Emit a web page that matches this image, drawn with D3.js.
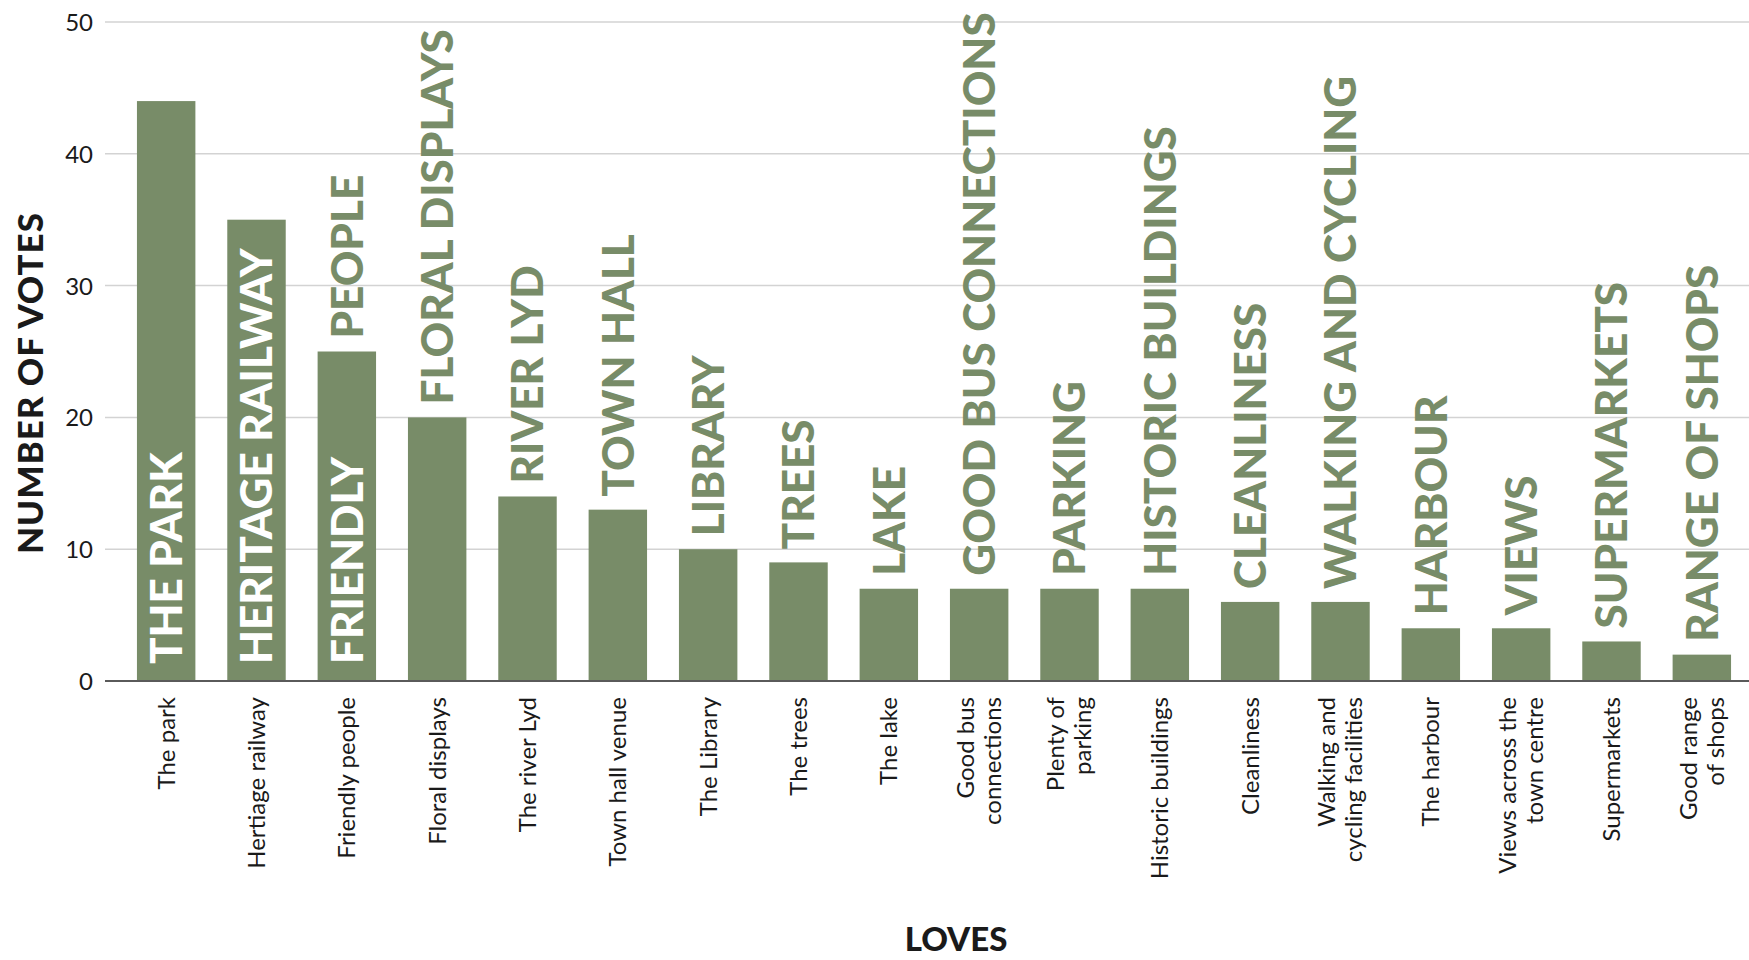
<!DOCTYPE html>
<html>
<head>
<meta charset="utf-8">
<script src="https://cdn.jsdelivr.net/npm/d3@7"></script>
<style>
  html, body { margin: 0; padding: 0; background: #ffffff; }
  svg { display: block; }
</style>
</head>
<body>
<div id="chart"></div>
<script>
// ---- data ----
const categories = [
  "The park", "Hertiage railway", "Friendly people", "Floral displays",
  "The river Lyd", "Town hall venue", "The Library", "The trees", "The lake",
  "Good bus\nconnections", "Plenty of\nparking", "Historic buildings",
  "Cleanliness", "Walking and\ncycling facilities", "The harbour",
  "Views across the\ntown centre", "Supermarkets", "Good range\nof shops"
];
const votes = [44, 35, 25, 20, 14, 13, 10, 9, 7, 7, 7, 7, 6, 6, 4, 4, 3, 2];
const insideLabels = [
  "THE PARK", "HERITAGE RAILWAY", "FRIENDLY", "", "", "", "", "", "",
  "", "", "", "", "", "", "", "", ""
];
const outsideLabels = [
  "", "", "PEOPLE", "FLORAL DISPLAYS", "RIVER LYD", "TOWN HALL", "LIBRARY",
  "TREES", "LAKE", "GOOD BUS CONNECTIONS", "PARKING", "HISTORIC BUILDINGS",
  "CLEANLINESS", "WALKING AND CYCLING", "HARBOUR", "VIEWS", "SUPERMARKETS",
  "RANGE OF SHOPS"
];
const yTicks = [0, 10, 20, 30, 40, 50];
const yTitle = "NUMBER OF VOTES";
const xTitle = "LOVES";

// ---- layout ----
const W = 1749, H = 960;
const green = "#788c68";
const font = "Lato, 'Noto Sans', sans-serif";

const svg = d3.select("#chart").append("svg")
  .attr("width", W).attr("height", H);

const gridLeft = 105, gridRight = 1749;
const x = d3.scaleBand().domain(d3.range(categories.length))
  .range([121, 1747]).paddingInner(0.353).paddingOuter(0.1765);
const y = d3.scaleLinear().domain([0, 50]).range([681, 22]);

// gridlines
svg.append("g").selectAll("line").data(yTicks.filter(d => d > 0)).join("line")
  .attr("x1", gridLeft).attr("x2", gridRight)
  .attr("y1", d => y(d)).attr("y2", d => y(d))
  .attr("stroke", "#d3d3d3").attr("stroke-width", 1.5);

// y axis labels
const yAxis = d3.axisLeft(y).tickValues(yTicks).tickSize(0).tickPadding(0);
const gy = svg.append("g").attr("transform", `translate(93,0)`).call(yAxis);
gy.select(".domain").remove();
gy.selectAll("text")
  .attr("font-family", font).attr("font-size", 24).attr("fill", "#1a1a1a")
  .attr("dy", "0.35em");

// bars
svg.append("g").selectAll("rect").data(votes).join("rect")
  .attr("x", (d, i) => x(i)).attr("width", x.bandwidth())
  .attr("y", d => y(d)).attr("height", d => y(0) - y(d))
  .attr("fill", green);

// baseline
svg.append("line").attr("x1", gridLeft).attr("x2", gridRight)
  .attr("y1", y(0)).attr("y2", y(0))
  .attr("stroke", "#5a5a5a").attr("stroke-width", 2);

// inside labels (white)
svg.append("g").selectAll("text").data(insideLabels.map((t, i) => ({t, i}))).join("text")
  .filter(d => d.t !== "")
  .attr("transform", d => `translate(${x(d.i) + x.bandwidth() / 2},${y(0) - 17}) rotate(-90)`)
  .attr("dy", "0.36em")
  .attr("font-family", font).attr("font-weight", 900).attr("font-size", 44)
  .attr("fill", "#ffffff").attr("text-anchor", "start")
  .text(d => d.t);

// outside labels (green)
svg.append("g").selectAll("text").data(outsideLabels.map((t, i) => ({t, i}))).join("text")
  .filter(d => d.t !== "")
  .attr("transform", d => `translate(${x(d.i) + x.bandwidth() / 2},${y(votes[d.i]) - 13}) rotate(-90)`)
  .attr("dy", "0.36em")
  .attr("font-family", font).attr("font-weight", 900).attr("font-size", 44)
  .attr("fill", green).attr("text-anchor", "start")
  .text(d => d.t);

// category labels
const catG = svg.append("g");
categories.forEach((c, i) => {
  const lines = c.split("\n");
  const lh = 27;
  const cx = x(i) + x.bandwidth() / 2;
  lines.forEach((ln, j) => {
    const off = (j - (lines.length - 1) / 2) * lh;
    catG.append("text")
      .attr("transform", `translate(${cx + off},697) rotate(-90)`)
      .attr("dy", "0.35em")
      .attr("text-anchor", "end")
      .attr("font-family", font).attr("font-size", 24).attr("fill", "#1a1a1a")
      .text(ln);
  });
});

// axis titles
svg.append("text")
  .attr("transform", `translate(30,383) rotate(-90)`)
  .attr("dy", "0.36em").attr("text-anchor", "middle")
  .attr("font-family", font).attr("font-weight", 900).attr("font-size", 35)
  .attr("letter-spacing", 1).attr("fill", "#1a1a1a")
  .text(yTitle);

svg.append("text")
  .attr("x", 956).attr("y", 939)
  .attr("dy", "0.36em")
  .attr("text-anchor", "middle")
  .attr("font-family", font).attr("font-weight", 900).attr("font-size", 33)
  .attr("fill", "#1a1a1a")
  .text(xTitle);
</script>
</body>
</html>
